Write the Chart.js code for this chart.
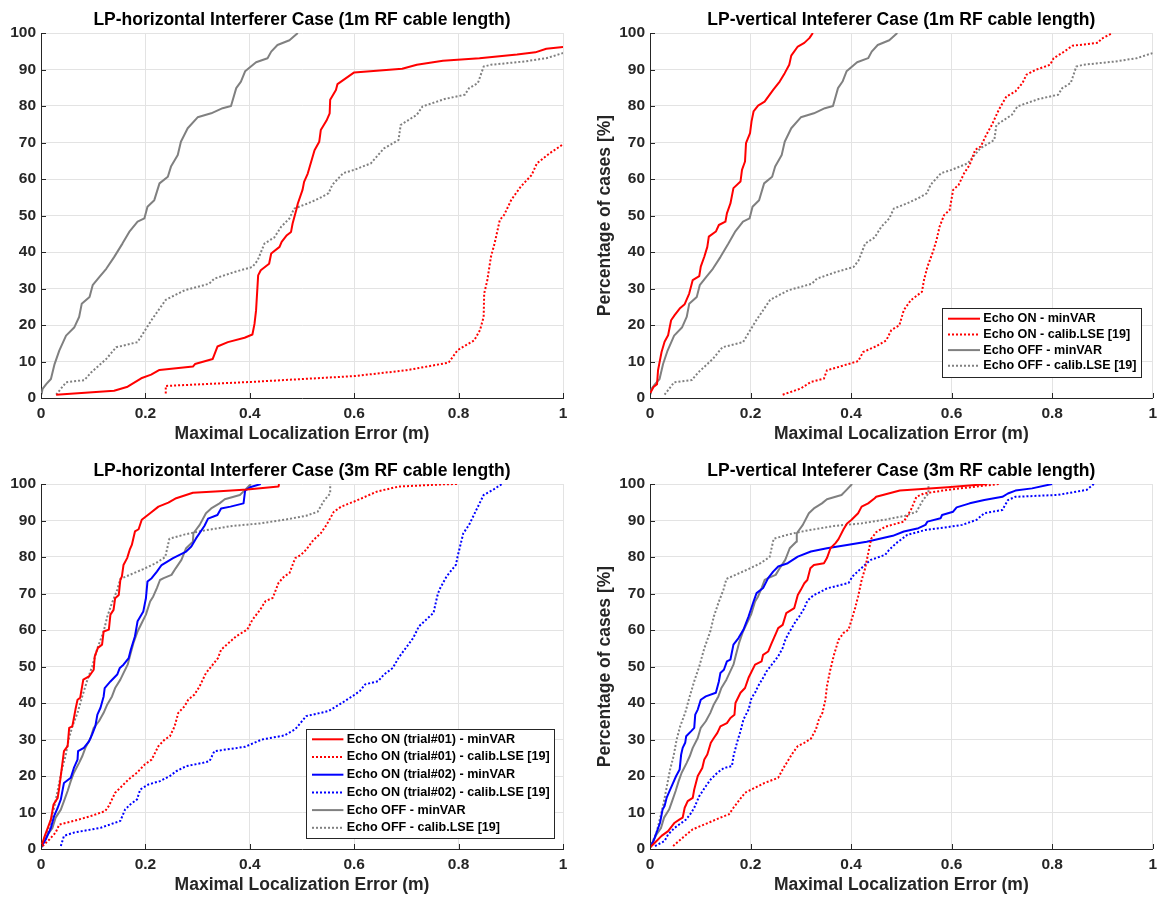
<!DOCTYPE html>
<html>
<head>
<meta charset="utf-8">
<script src="https://cdn.jsdelivr.net/npm/chart.js@4.4.0/dist/chart.umd.min.js"></script>
<style>
html,body{margin:0;padding:0;background:#fff;}
body{width:1163px;height:898px;position:relative;overflow:hidden;}
canvas{position:absolute;display:block;}
</style>
</head>
<body>
<canvas id="c1" width="581" height="449" style="left:0;top:0"></canvas>
<canvas id="c2" width="582" height="449" style="left:581px;top:0"></canvas>
<canvas id="c3" width="581" height="449" style="left:0;top:449px"></canvas>
<canvas id="c4" width="582" height="449" style="left:581px;top:449px"></canvas>
<script>
// ---------------- DATA ----------------
const xTickLabels = ['0', '0.2', '0.4', '0.6', '0.8', '1'];
const yTickLabels = ['0', '10', '20', '30', '40', '50', '60', '70', '80', '90', '100'];

const titles = [
  'LP-horizontal Interferer Case (1m RF cable length)',
  'LP-vertical Inteferer Case (1m RF cable length)',
  'LP-horizontal Interferer Case (3m RF cable length)',
  'LP-vertical Inteferer Case (3m RF cable length)'
];
const xAxisTitle = 'Maximal Localization Error (m)';
const yAxisTitle = 'Percentage of cases [%]';

const labels1m = ['Echo ON - minVAR', 'Echo ON - calib.LSE [19]', 'Echo OFF - minVAR', 'Echo OFF - calib.LSE [19]'];
const labels3m = ['Echo ON (trial#01) - minVAR', 'Echo ON (trial#01) - calib.LSE [19]',
  'Echo ON (trial#02) - minVAR', 'Echo ON (trial#02) - calib.LSE [19]',
  'Echo OFF - minVAR', 'Echo OFF - calib.LSE [19]'];

// Echo OFF (1m) - shared by both top panels
const offMinVar1m = [[0.001,1.0],[0.003,2.5],[0.01,3.8],[0.019,5.2],[0.026,9.3],[0.035,13],[0.048,17.1],[0.064,19.4],[0.073,22.2],[0.078,25.8],[0.093,27.7],[0.099,30.9],[0.112,33.2],[0.125,35.4],[0.14,38.6],[0.156,42.3],[0.169,45.5],[0.185,48.3],[0.198,49.2],[0.204,52.4],[0.217,54.2],[0.227,58.8],[0.243,60.6],[0.249,63.4],[0.262,66.6],[0.268,70.2],[0.281,73.9],[0.30,76.9],[0.326,78],[0.348,79.4],[0.364,80],[0.374,84.9],[0.383,86.7],[0.391,89.5],[0.412,92],[0.434,93.1],[0.441,94.9],[0.453,96.7],[0.476,98],[0.492,100]];
const offLse1m = [[0.029,0.9],[0.048,4.3],[0.083,4.9],[0.096,7],[0.125,10.7],[0.144,13.9],[0.185,15.3],[0.211,21.2],[0.239,26.9],[0.275,29.5],[0.322,31.3],[0.332,32.7],[0.37,34.5],[0.405,35.9],[0.415,37.7],[0.428,42.3],[0.447,44],[0.46,46.9],[0.476,49.2],[0.485,51.9],[0.511,53.3],[0.533,54.7],[0.551,56.1],[0.558,58.4],[0.579,61.6],[0.6,62.5],[0.632,64.3],[0.657,68.4],[0.685,70.7],[0.689,74.8],[0.72,77.6],[0.731,79.9],[0.773,81.9],[0.812,83.1],[0.82,84.9],[0.837,86.3],[0.848,90.8],[0.862,91.3],[0.926,92.2],[0.968,93.1],[1.0,94.5]];

// LP-horizontal, 1m
const hOnMinVar1m = [[0.029,0.9],[0.14,2],[0.166,3.1],[0.192,5.4],[0.211,6.4],[0.227,7.7],[0.291,8.6],[0.295,9.3],[0.329,10.7],[0.338,14.1],[0.358,15.3],[0.39,16.5],[0.405,17.4],[0.409,20.3],[0.412,24],[0.416,33.6],[0.421,35],[0.437,36.8],[0.441,39.6],[0.457,41.4],[0.461,42.8],[0.471,44.6],[0.479,45.5],[0.482,47.8],[0.489,51.5],[0.492,53.3],[0.501,57],[0.504,59.2],[0.511,61.5],[0.524,67.9],[0.533,70.2],[0.536,73.4],[0.547,76],[0.553,78],[0.554,81.7],[0.565,84.4],[0.568,86],[0.6,89.2],[0.692,90.2],[0.72,91.3],[0.77,92.4],[0.84,93.1],[0.912,94.1],[0.947,94.7],[0.968,95.7],[1.0,96.2]];
const hOnLse1m = [[0.239,1.2],[0.239,3.3],[0.402,4.4],[0.6,6],[0.7,7.6],[0.735,8.5],[0.781,9.7],[0.798,13.1],[0.83,15.8],[0.841,18.6],[0.848,22.2],[0.849,28.6],[0.855,32.3],[0.862,38.7],[0.869,42.4],[0.879,48.8],[0.887,50.1],[0.901,54.3],[0.919,57.9],[0.94,61.1],[0.95,64.3],[0.975,67.1],[1.0,69.5]];

// LP-vertical, 1m
const vOnMinVar1m = [[0,1.2],[0.007,3],[0.014,3.8],[0.016,7.6],[0.023,12.6],[0.029,15.4],[0.036,17.2],[0.042,21.3],[0.049,22.7],[0.059,24.5],[0.069,25.7],[0.078,28.6],[0.085,32.3],[0.098,33.4],[0.101,36],[0.108,38.7],[0.114,41.4],[0.117,44.2],[0.131,45.6],[0.137,47.4],[0.15,48.3],[0.153,50.6],[0.16,53.3],[0.166,57.5],[0.18,59.3],[0.183,62.5],[0.189,64.8],[0.191,69.8],[0.199,72.6],[0.202,75.8],[0.206,78.5],[0.215,80.1],[0.228,81.2],[0.245,84.4],[0.258,86.7],[0.268,89],[0.277,91.3],[0.281,93.8],[0.294,96.3],[0.307,97.3],[0.317,98.6],[0.324,100]];
const vOnLse1m = [[0.264,0.9],[0.3,2.6],[0.32,4.4],[0.346,5.3],[0.352,7.6],[0.375,8.5],[0.414,10.1],[0.424,12.6],[0.45,14.2],[0.47,15.8],[0.48,18.6],[0.496,19.9],[0.505,24.1],[0.519,26.8],[0.541,29.1],[0.545,32.3],[0.552,36],[0.563,40.1],[0.57,43.3],[0.576,46.9],[0.585,50.1],[0.596,51.5],[0.603,57],[0.614,58.4],[0.625,61.6],[0.636,63.9],[0.647,68],[0.658,68.9],[0.669,72.1],[0.68,74.8],[0.694,79],[0.709,82.6],[0.727,84],[0.741,86.3],[0.749,88.6],[0.767,89.9],[0.796,91.3],[0.803,93.1],[0.825,95],[0.84,96.5],[0.891,97.3],[0.898,98.4],[0.92,100]];

// Echo OFF (3m) - shared by both bottom panels
const offMinVar3m = [[0,0.4],[0.013,4],[0.022,5.8],[0.028,8.6],[0.038,10.8],[0.044,13.1],[0.051,15.9],[0.057,18.6],[0.063,20.9],[0.073,23.6],[0.079,25.4],[0.085,27.7],[0.095,30.4],[0.101,33.2],[0.111,35],[0.12,37.3],[0.127,39.6],[0.136,41.8],[0.142,44.1],[0.152,46.4],[0.158,48.2],[0.166,50.5],[0.171,53.2],[0.177,56.4],[0.185,59.6],[0.193,61.9],[0.201,64.2],[0.209,67.8],[0.215,69.2],[0.222,71.5],[0.228,73.7],[0.235,74.2],[0.25,75.1],[0.258,76.9],[0.269,79.2],[0.278,82.4],[0.291,84.2],[0.292,86.5],[0.304,88.8],[0.316,92],[0.326,93.3],[0.342,94.7],[0.352,95.8],[0.381,97],[0.391,98.4],[0.402,100]];
const offLse3m = [[0,0.4],[0.013,4.5],[0.021,9],[0.027,12.5],[0.034,17.5],[0.04,21.8],[0.047,25.5],[0.053,30],[0.06,33.6],[0.07,37.3],[0.079,41.8],[0.089,46.4],[0.098,50],[0.108,55],[0.12,59.6],[0.127,63.7],[0.136,67.4],[0.146,71],[0.152,74],[0.17,75.1],[0.196,76.7],[0.22,78.3],[0.238,80],[0.246,85],[0.276,86.2],[0.31,87.2],[0.366,88.5],[0.42,89.2],[0.47,90.3],[0.508,91.3],[0.53,92.4],[0.543,95.6],[0.554,97.4],[0.554,100]];

// LP-horizontal, 3m
const hOnMinVar3mT1 = [[0,0.4],[0.006,3.1],[0.013,5.8],[0.019,8.1],[0.024,12.2],[0.032,14],[0.035,16.8],[0.039,21.3],[0.044,26.8],[0.051,28.2],[0.054,33.2],[0.06,33.6],[0.066,38.2],[0.07,40.9],[0.075,41.4],[0.081,46.4],[0.092,47.3],[0.101,49.1],[0.103,52.8],[0.109,55.1],[0.117,56],[0.12,59.6],[0.13,60.1],[0.133,64.2],[0.139,65.5],[0.142,68.7],[0.149,69.6],[0.152,73.7],[0.155,74.7],[0.158,77.8],[0.165,79.7],[0.17,82],[0.174,83.3],[0.18,87],[0.187,87.6],[0.193,90.2],[0.201,91.1],[0.209,92],[0.225,93.8],[0.244,94.9],[0.259,96.1],[0.291,97.6],[0.342,98],[0.395,98.5],[0.455,99.3],[0.456,100]];
const hOnLse3mT1 = [[0.003,0.8],[0.016,2.6],[0.028,4.5],[0.035,6.7],[0.063,7.7],[0.095,9],[0.123,10.4],[0.13,11.8],[0.142,15.4],[0.152,16.8],[0.168,19.1],[0.184,20.9],[0.199,23.2],[0.212,24.5],[0.225,28.2],[0.237,30],[0.247,30.9],[0.256,33.6],[0.263,37.3],[0.275,39.1],[0.282,40.9],[0.294,42.3],[0.304,44.6],[0.316,48.2],[0.329,50.5],[0.339,52.3],[0.345,54.6],[0.374,58.3],[0.395,60.1],[0.405,62.8],[0.42,65.6],[0.43,67.9],[0.444,68.8],[0.455,72.9],[0.466,74.7],[0.476,75.6],[0.487,79.7],[0.498,80.6],[0.508,82],[0.522,84.7],[0.536,86.5],[0.547,88.8],[0.561,92.4],[0.575,93.8],[0.6,95.2],[0.621,96.5],[0.643,97.9],[0.685,99.3],[0.77,99.9],[0.798,100]];
const hOnMinVar3mT2 = [[0,0.4],[0.009,2.6],[0.019,5.8],[0.025,9],[0.032,11.3],[0.038,13.6],[0.044,18.1],[0.057,19.5],[0.063,22.2],[0.07,24.5],[0.071,26.8],[0.082,27.7],[0.092,29.5],[0.098,31.4],[0.104,33.6],[0.108,36.8],[0.114,38.7],[0.12,41.8],[0.122,44.1],[0.133,45.9],[0.146,47.8],[0.151,49.6],[0.158,50.5],[0.168,52.3],[0.172,54.6],[0.18,58.3],[0.185,62.4],[0.196,65.1],[0.201,68.7],[0.204,73.3],[0.212,74.2],[0.222,76],[0.231,77.8],[0.253,79.7],[0.278,81.5],[0.288,82.9],[0.297,85.1],[0.313,88.5],[0.32,90.5],[0.338,91.5],[0.345,93.3],[0.363,93.8],[0.388,94.7],[0.391,98.2],[0.402,99.2],[0.421,100]];
const hOnLse3mT2 = [[0.038,0.8],[0.044,3.6],[0.063,4.5],[0.114,5.8],[0.152,7.7],[0.161,10.8],[0.171,12.2],[0.184,13.6],[0.19,16.3],[0.206,17.7],[0.228,18.6],[0.247,20],[0.259,21.3],[0.278,22.7],[0.31,23.6],[0.323,24.1],[0.332,26.8],[0.391,28],[0.423,30],[0.466,31.1],[0.487,32.8],[0.508,36.4],[0.551,37.8],[0.575,39.9],[0.597,41.9],[0.611,43.3],[0.621,45.1],[0.646,46],[0.657,47.8],[0.674,49.6],[0.685,52.4],[0.699,55.1],[0.713,57.8],[0.724,61],[0.752,64.7],[0.759,69.2],[0.763,71],[0.777,74.7],[0.795,77.9],[0.798,80.1],[0.809,86.5],[0.82,88.8],[0.834,92.9],[0.848,97],[0.866,98.4],[0.883,100]];

// LP-vertical, 3m
const vOnMinVar3mT1 = [[0,0.4],[0.013,2.2],[0.023,3.6],[0.036,4.9],[0.049,7.2],[0.059,8.1],[0.065,8.6],[0.069,11.3],[0.075,13.1],[0.085,14],[0.088,16.3],[0.095,20],[0.104,22.2],[0.108,24.5],[0.114,25.9],[0.121,29.1],[0.127,30.4],[0.134,31.8],[0.14,33.6],[0.153,34.5],[0.16,35.9],[0.168,36.8],[0.17,40],[0.18,42.8],[0.189,44.1],[0.196,46.9],[0.209,50.5],[0.222,51.4],[0.225,53.2],[0.235,54.1],[0.242,56.4],[0.251,59.2],[0.255,60.5],[0.264,61.4],[0.271,64.6],[0.287,66],[0.294,69.6],[0.3,71],[0.307,72.8],[0.313,73.7],[0.319,76.9],[0.326,77.8],[0.346,78.3],[0.352,79.7],[0.359,82.4],[0.369,83.8],[0.375,84.9],[0.385,87.6],[0.392,89.2],[0.401,90.2],[0.414,92],[0.421,93.8],[0.434,94.7],[0.447,96.1],[0.45,96.5],[0.497,98.2],[0.592,99.1],[0.671,100]];
const vOnLse3mT1 = [[0.046,0.8],[0.065,3.1],[0.085,5.4],[0.108,6.7],[0.14,8.6],[0.157,9.5],[0.166,11.3],[0.176,13.1],[0.189,15.4],[0.209,16.8],[0.228,18.1],[0.255,19.5],[0.264,21.8],[0.274,24.1],[0.284,26.3],[0.294,28.2],[0.307,29.1],[0.32,30.2],[0.33,32.7],[0.336,35.5],[0.343,37.3],[0.349,40.9],[0.352,44.6],[0.358,48.7],[0.366,53.2],[0.375,57.3],[0.385,59.2],[0.395,60.1],[0.401,62.8],[0.408,66],[0.414,69.2],[0.421,73.7],[0.428,76.9],[0.434,81],[0.44,85],[0.45,86.8],[0.468,88.3],[0.505,89.7],[0.519,92.9],[0.53,96.5],[0.545,97.4],[0.592,98.4],[0.694,100]];
const vOnMinVar3mT2 = [[0,0.4],[0.007,2.2],[0.013,4.5],[0.02,7.2],[0.025,10.8],[0.029,11.8],[0.033,14],[0.039,15.9],[0.046,18.1],[0.052,20],[0.059,21.8],[0.062,25.9],[0.065,27.7],[0.07,29.1],[0.072,30.9],[0.082,32.3],[0.088,33.2],[0.09,36.8],[0.095,38.2],[0.101,40.9],[0.111,41.8],[0.131,42.8],[0.137,45.9],[0.14,48.2],[0.147,49.1],[0.153,51.4],[0.16,51.9],[0.166,56],[0.176,57.8],[0.186,60.1],[0.196,63.7],[0.206,67.8],[0.212,70.1],[0.225,71.5],[0.235,74.2],[0.245,76],[0.255,77.4],[0.274,78.3],[0.294,80.1],[0.32,81.5],[0.352,82.4],[0.392,83.3],[0.431,84.2],[0.47,85.4],[0.483,85.8],[0.505,87],[0.534,87.9],[0.548,88.8],[0.552,89.7],[0.578,90.6],[0.581,91.5],[0.603,92.4],[0.61,93.6],[0.636,94.7],[0.665,95.6],[0.701,96.5],[0.712,97.4],[0.727,98.2],[0.76,98.8],[0.8,100]];
const vOnLse3mT2 = [[0.01,0.8],[0.029,2.2],[0.036,4],[0.049,5.8],[0.072,8.1],[0.082,9.9],[0.088,11.3],[0.098,14.5],[0.111,17.2],[0.121,19.1],[0.134,20.9],[0.147,22.2],[0.163,22.7],[0.166,25.4],[0.173,29.1],[0.18,32.3],[0.186,35.5],[0.196,38.2],[0.202,41.4],[0.209,42.8],[0.215,44.6],[0.225,46.9],[0.232,48.7],[0.245,51],[0.255,52.8],[0.264,55.1],[0.268,56.9],[0.274,58.7],[0.284,61],[0.29,62.4],[0.297,63.7],[0.307,66],[0.313,68],[0.325,69.5],[0.337,70.3],[0.352,71.4],[0.395,72.9],[0.403,74.7],[0.428,77.9],[0.439,79.2],[0.468,80.6],[0.476,82],[0.49,83.8],[0.512,86.1],[0.548,87.4],[0.592,88.2],[0.621,88.8],[0.65,90.2],[0.665,92],[0.701,92.9],[0.712,95.6],[0.727,96.5],[0.811,97],[0.869,98.4],[0.883,100]];

// ---------------- STYLE ----------------
const FONT = '"Liberation Sans", Arial, Helvetica, sans-serif';
const RED = '#ff0000', BLUE = '#0000ff', GRAY = '#808080';
const AXIS = '#262626', GRID = '#e3e3e3';
const TITLE_SIZE = 17.5, TICK_SIZE = 15.5, LEGEND_SIZE = 12.6;

const decor = {
  id: 'decor',
  afterDatasetsDraw(chart, args, o) {
    const {ctx, chartArea: a, scales: {x, y}} = chart;
    ctx.save();
    // inward tick marks (MATLAB style)
    ctx.strokeStyle = AXIS; ctx.lineWidth = 1; ctx.setLineDash([]);
    ctx.beginPath();
    x.ticks.forEach(t => { const px = Math.round(x.getPixelForValue(t.value)) + 0.5; ctx.moveTo(px, a.bottom); ctx.lineTo(px, a.bottom - 5); });
    y.ticks.forEach(t => { const py = Math.round(y.getPixelForValue(t.value)) + 0.5; ctx.moveTo(a.left, py); ctx.lineTo(a.left + 5, py); });
    ctx.stroke();
    // legend box
    const L = o.legend;
    if (L) {
      const ds = chart.data.datasets;
      ctx.font = 'bold ' + LEGEND_SIZE + 'px ' + FONT;
      const tw = Math.max(...ds.map(d => ctx.measureText(d.label).width));
      const w = Math.round(L.textX + tw + 4.5);
      const h = Math.round(L.first * 2 + L.rowH * (ds.length - 1));
      const bx = Math.round(a.right - L.right - w), by = Math.round(a.bottom - L.bottom - h);
      ctx.fillStyle = '#fff'; ctx.fillRect(bx, by, w, h);
      ctx.strokeStyle = AXIS; ctx.lineWidth = 1;
      ctx.strokeRect(bx + 0.5, by + 0.5, w, h);
      ds.forEach((d, i) => {
        const cy = by + L.first + i * L.rowH;
        ctx.strokeStyle = d.borderColor; ctx.lineWidth = d.borderWidth;
        ctx.setLineDash(d.borderDash || []);
        ctx.beginPath(); ctx.moveTo(bx + 6, cy); ctx.lineTo(bx + L.lineEnd, cy); ctx.stroke();
        ctx.setLineDash([]);
        ctx.fillStyle = '#000'; ctx.textBaseline = 'middle'; ctx.textAlign = 'left';
        ctx.fillText(d.label, bx + L.textX, cy);
      });
    }
    // panel title
    ctx.font = 'bold ' + TITLE_SIZE + 'px ' + FONT;
    ctx.fillStyle = '#000'; ctx.textAlign = 'center'; ctx.textBaseline = 'middle';
    ctx.fillText(o.title, (a.left + a.right) / 2, a.top - 13);
    ctx.restore();
  }
};
Chart.register(decor);

const toXY = arr => arr.map(([x, y]) => ({x, y}));

function makePanel(id, p) {
  const cv = document.getElementById(id);
  const W = cv.width, H = cv.height;
  const lh = TITLE_SIZE * 1.2;
  const XH = 36 + lh / 2;
  return new Chart(cv, {
    type: 'line',
    data: {
      datasets: p.series.map(s => ({
        label: s.label, data: toXY(s.data), borderColor: s.color, backgroundColor: s.color,
        borderWidth: 2, borderDash: s.dotted ? [2, 2] : [], pointRadius: 0, fill: false,
        tension: 0, borderJoinStyle: 'round', borderCapStyle: 'butt'
      }))
    },
    options: {
      responsive: false, animation: false, devicePixelRatio: 1, events: [],
      layout: {autoPadding: false, padding: {left: 0, top: p.area.t, right: W - p.area.r, bottom: H - p.area.b - XH}},
      plugins: {
        legend: {display: false}, tooltip: {enabled: false}, title: {display: false},
        decor: {title: p.title, legend: p.legend || null}
      },
      scales: {
        x: {
          type: 'linear', min: 0, max: 1,
          ticks: {stepSize: 0.2, padding: 6, color: AXIS, autoSkip: false, maxRotation: 0,
            font: {family: FONT, size: TICK_SIZE, weight: 'bold'}, callback: (v, i) => xTickLabels[i]},
          grid: {color: GRID, drawTicks: false, lineWidth: 1},
          border: {display: true, color: AXIS, width: 1},
          title: {display: true, text: xAxisTitle, color: AXIS, padding: {top: 0, bottom: 0},
            font: {family: FONT, size: TITLE_SIZE, weight: 'bold'}},
          afterFit: s => { s.height = XH; }
        },
        y: {
          type: 'linear', min: 0, max: 100,
          ticks: {stepSize: 10, padding: 5, color: AXIS, autoSkip: false,
            font: {family: FONT, size: TICK_SIZE, weight: 'bold'}, callback: (v, i) => yTickLabels[i]},
          grid: {color: GRID, drawTicks: false, lineWidth: 1},
          border: {display: true, color: AXIS, width: 1},
          title: {display: !!p.yTitle, text: yAxisTitle, color: AXIS, padding: {top: 24 - lh / 2, bottom: 0},
            font: {family: FONT, size: TITLE_SIZE, weight: 'bold'}},
          afterFit: s => { s.width = p.area.l; }
        }
      }
    }
  });
}

function series1m(onMin, onLse) {
  return [
    {label: labels1m[0], data: onMin, color: RED},
    {label: labels1m[1], data: onLse, color: RED, dotted: true},
    {label: labels1m[2], data: offMinVar1m, color: GRAY},
    {label: labels1m[3], data: offLse1m, color: GRAY, dotted: true}
  ];
}
function series3m(m1, l1, m2, l2) {
  return [
    {label: labels3m[0], data: m1, color: RED},
    {label: labels3m[1], data: l1, color: RED, dotted: true},
    {label: labels3m[2], data: m2, color: BLUE},
    {label: labels3m[3], data: l2, color: BLUE, dotted: true},
    {label: labels3m[4], data: offMinVar3m, color: GRAY},
    {label: labels3m[5], data: offLse3m, color: GRAY, dotted: true}
  ];
}

makePanel('c1', {title: titles[0], area: {l: 41, t: 33, r: 563, b: 398}, series: series1m(hOnMinVar1m, hOnLse1m)});
makePanel('c2', {title: titles[1], area: {l: 69, t: 33, r: 578, b: 398}, yTitle: true,
  series: series1m(vOnMinVar1m, vOnLse1m),
  legend: {right: 12, bottom: 21, first: 10.7, rowH: 15.7, lineEnd: 38, textX: 41.3}});
makePanel('c3', {title: titles[2], area: {l: 41, t: 35, r: 563, b: 400},
  series: series3m(hOnMinVar3mT1, hOnLse3mT1, hOnMinVar3mT2, hOnLse3mT2),
  legend: {right: 9, bottom: 11, first: 10.3, rowH: 17.7, lineEnd: 37.4, textX: 40.8}});
makePanel('c4', {title: titles[3], area: {l: 69, t: 35, r: 578, b: 400}, yTitle: true,
  series: series3m(vOnMinVar3mT1, vOnLse3mT1, vOnMinVar3mT2, vOnLse3mT2)});
</script>
</body>
</html>
